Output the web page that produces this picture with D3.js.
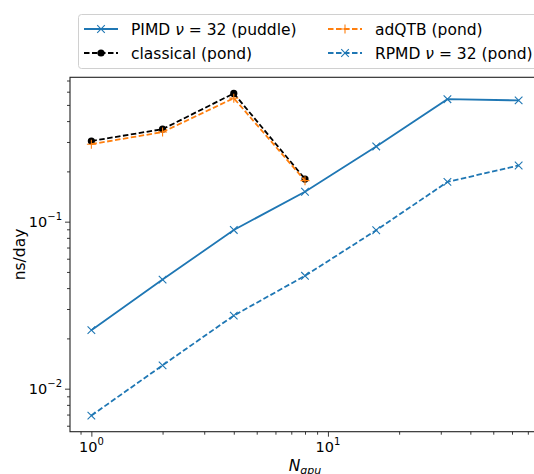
<!DOCTYPE html>
<html>
<head>
<meta charset="utf-8">
<script src="https://cdn.jsdelivr.net/npm/d3@7"></script>
<style>
  body { margin: 0; background: #fff; }
  text { font-family: "DejaVu Sans", sans-serif; fill: #000; }
</style>
</head>
<body>
<div id="container"></div>
<script>
// values (log-log plot)
const nGpu = [1, 2, 4, 8, 16, 32, 64];
const pimdPuddle = [0.0224, 0.0450, 0.0892, 0.151, 0.282, 0.541, 0.532];
const rpmdPond = [0.0069, 0.0138, 0.0274, 0.0474, 0.0888, 0.173, 0.217];
const nGpuPond = [1, 2, 4, 8];
const classicalPond = [0.304, 0.358, 0.586, 0.180];
const adqtbPond = [0.291, 0.344, 0.549, 0.176];

const width = 534, height = 474;
const margin = {left: 70, top: 77.3, right: 540, bottom: 431.7};

const blue = '#1f77b4', orange = '#ff7f0e';

const svg = d3.select('#container')
  .append('svg')
  .attr('width', width)
  .attr('height', height);

// 1. scales with matplotlib style 5% margins in log space
function logDomain(vals) {
  let lo = Math.log10(d3.min(vals)), hi = Math.log10(d3.max(vals));
  let m = (hi - lo) * 0.05;
  return [Math.pow(10, lo - m), Math.pow(10, hi + m)];
}
const allY = pimdPuddle.concat(rpmdPond, classicalPond, adqtbPond);
let xScale = d3.scaleLog().domain(logDomain(nGpu)).range([margin.left, margin.right]);
let yScale = d3.scaleLog().domain(logDomain(allY)).range([margin.bottom, margin.top]);

// 2. ticks
function minorTicks(domain) {
  let out = [];
  for (let e = -4; e <= 3; e++) {
    for (let k = 2; k <= 9; k++) {
      let v = k * Math.pow(10, e);
      if (v >= domain[0] && v <= domain[1]) out.push(v);
    }
  }
  return out;
}
function majorTicks(domain) {
  let out = [];
  for (let e = -4; e <= 3; e++) {
    let v = Math.pow(10, e);
    if (v >= domain[0] && v <= domain[1]) out.push(v);
  }
  return out;
}

const xMajor = majorTicks(xScale.domain());
const yMajor = majorTicks(yScale.domain());

function styleAxis(g) {
  g.select('.domain').remove();
  g.selectAll('line').attr('stroke', '#222').attr('stroke-width', 0.9);
}

svg.append('g')
  .attr('transform', `translate(0,${margin.bottom})`)
  .call(d3.axisBottom(xScale).tickValues(minorTicks(xScale.domain())).tickSize(3).tickFormat(''))
  .call(styleAxis);
svg.append('g')
  .attr('transform', `translate(0,${margin.bottom})`)
  .call(d3.axisBottom(xScale).tickValues(xMajor).tickSize(5).tickFormat(''))
  .call(styleAxis);
svg.append('g')
  .attr('transform', `translate(${margin.left},0)`)
  .call(d3.axisLeft(yScale).tickValues(minorTicks(yScale.domain())).tickSize(3).tickFormat(''))
  .call(styleAxis);
svg.append('g')
  .attr('transform', `translate(${margin.left},0)`)
  .call(d3.axisLeft(yScale).tickValues(yMajor).tickSize(5).tickFormat(''))
  .call(styleAxis);

// tick labels as 10^n
const xLabels = svg.selectAll('.xlab').data(xMajor).enter()
  .append('text')
  .attr('class', 'xlab')
  .attr('x', d => xScale(d))
  .attr('y', 452)
  .attr('text-anchor', 'middle')
  .style('font-size', '14.5px');
xLabels.append('tspan').text('10');
xLabels.append('tspan').attr('dy', -7).style('font-size', '10px').text(d => Math.round(Math.log10(d)));

const yLabels = svg.selectAll('.ylab').data(yMajor).enter()
  .append('text')
  .attr('class', 'ylab')
  .attr('x', 62)
  .attr('y', d => yScale(d) + 5)
  .attr('text-anchor', 'end')
  .style('font-size', '14.5px');
yLabels.append('tspan').text('10');
yLabels.append('tspan').attr('dy', -7).style('font-size', '10px').text(d => '\u2212' + Math.abs(Math.round(Math.log10(d))));

// axis labels
svg.append('text')
  .attr('transform', `translate(25,${(margin.top + margin.bottom) / 2}) rotate(-90)`)
  .attr('text-anchor', 'middle')
  .style('font-size', '15.5px')
  .text('ns/day');

// x label sits at the bottom edge, partly cut like the reference
const xl = svg.append('text')
  .attr('x', (margin.left + margin.right) / 2)
  .attr('y', 471)
  .attr('text-anchor', 'middle')
  .style('font-size', '15.5px')
  .style('font-style', 'italic');
xl.append('tspan').text('N');
xl.append('tspan').attr('dy', 3).style('font-size', '11px').text('gpu');

// 3. lines and markers
svg.append('clipPath').attr('id', 'plotclip')
  .append('rect')
  .attr('x', margin.left).attr('y', margin.top)
  .attr('width', margin.right - margin.left)
  .attr('height', margin.bottom - margin.top);

const plot = svg.append('g').attr('clip-path', 'url(#plotclip)');

const series = [
  {xs: nGpu, ys: pimdPuddle, color: blue, dash: null, marker: 'x'},
  {xs: nGpu, ys: rpmdPond, color: blue, dash: '5.5,2.5', marker: 'x'},
  {xs: nGpuPond, ys: classicalPond, color: '#000', dash: '5.5,2.5', marker: 'o'},
  {xs: nGpuPond, ys: adqtbPond, color: orange, dash: '5.5,2.5', marker: '+'},
];

const lineGenerator = d3.line()
  .x(d => xScale(d[0]))
  .y(d => yScale(d[1]));

function drawMarker(g, kind, color, cx, cy) {
  if (kind === 'o') {
    g.append('circle').attr('cx', cx).attr('cy', cy).attr('r', 3.6).attr('fill', color);
  } else if (kind === 'x') {
    let s = 3.8;
    g.append('path')
      .attr('d', `M${cx - s},${cy - s}L${cx + s},${cy + s}M${cx - s},${cy + s}L${cx + s},${cy - s}`)
      .attr('stroke', color).attr('stroke-width', 1.1).attr('fill', 'none');
  } else {
    let s = 4.5;
    g.append('path')
      .attr('d', `M${cx - s},${cy}L${cx + s},${cy}M${cx},${cy - s}L${cx},${cy + s}`)
      .attr('stroke', color).attr('stroke-width', 1.1).attr('fill', 'none');
  }
}

series.forEach(s => {
  let pts = s.xs.map((x, i) => [x, s.ys[i]]);
  plot.append('path')
    .attr('d', lineGenerator(pts))
    .attr('fill', 'none')
    .attr('stroke', s.color)
    .attr('stroke-width', 1.8)
    .attr('stroke-dasharray', s.dash);
  pts.forEach(p => drawMarker(plot, s.marker, s.color, xScale(p[0]), yScale(p[1])));
});

// frame
svg.append('rect')
  .attr('x', margin.left).attr('y', margin.top)
  .attr('width', margin.right - margin.left)
  .attr('height', margin.bottom - margin.top)
  .attr('fill', 'none')
  .attr('stroke', '#222')
  .attr('stroke-width', 1.1);

// 4. legend
const legendItems = [
  {label: 'PIMD', rest: ' (puddle)', nu: true, color: blue, dash: null, marker: 'x', x: 84, y: 29},
  {label: 'classical (pond)', nu: false, color: '#000', dash: '5.5,2.5', marker: 'o', x: 84, y: 53},
  {label: 'adQTB (pond)', nu: false, color: orange, dash: '5.5,2.5', marker: '+', x: 328, y: 29},
  {label: 'RPMD', rest: ' (pond)', nu: true, color: blue, dash: '5.5,2.5', marker: 'x', x: 328, y: 53},
];

const legend = svg.append('g');
legend.append('rect')
  .attr('x', 78.5).attr('y', 14.5)
  .attr('width', 480).attr('height', 54)
  .attr('rx', 3)
  .attr('fill', '#fff')
  .attr('fill-opacity', 0.8)
  .attr('stroke', '#d0d0d0');

legendItems.forEach(d => {
  legend.append('line')
    .attr('x1', d.x).attr('x2', d.x + 34)
    .attr('y1', d.y).attr('y2', d.y)
    .attr('stroke', d.color)
    .attr('stroke-width', 1.8)
    .attr('stroke-dasharray', d.dash);
  drawMarker(legend, d.marker, d.color, d.x + 17, d.y);
  let t = legend.append('text')
    .attr('x', d.x + 47)
    .attr('y', d.y + 5.5)
    .style('font-size', '15.5px');
  if (d.nu) {
    t.append('tspan').text(d.label + ' ');
    t.append('tspan').style('font-style', 'italic').text('\u03bd');
    t.append('tspan').text(' = 32' + d.rest);
  } else {
    t.text(d.label);
  }
});
</script>
</body>
</html>
